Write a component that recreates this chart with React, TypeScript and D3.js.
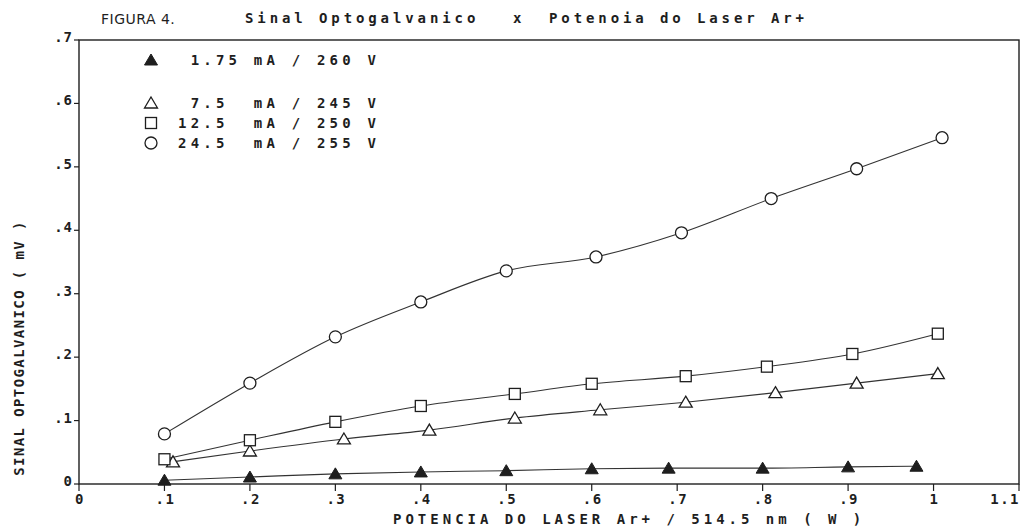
import React from "react";
import * as d3 from "d3";

const W = 1029;
const H = 529;

const xTicks = [0, 0.1, 0.2, 0.3, 0.4, 0.5, 0.6, 0.7, 0.8, 0.9, 1, 1.1];
const xTickLabels = ["0", ".1", ".2", ".3", ".4", ".5", ".6", ".7", ".8", ".9", "1", "1.1"];
const yTicks = [0, 0.1, 0.2, 0.3, 0.4, 0.5, 0.6, 0.7];
const yTickLabels = ["0", ".1", ".2", ".3", ".4", ".5", ".6", ".7"];

// 1.75 mA / 260 V (filled triangles)
const s1x = [0.1, 0.2, 0.3, 0.4, 0.5, 0.6, 0.69, 0.8, 0.9, 0.98];
const s1y = [0.006, 0.011, 0.016, 0.019, 0.021, 0.024, 0.025, 0.025, 0.027, 0.028];
// 7.5 mA / 245 V (open triangles)
const s2x = [0.11, 0.2, 0.31, 0.41, 0.51, 0.61, 0.71, 0.815, 0.91, 1.005];
const s2y = [0.035, 0.052, 0.071, 0.085, 0.104, 0.117, 0.129, 0.144, 0.159, 0.174];
// 12.5 mA / 250 V (open squares)
const s3x = [0.1, 0.2, 0.3, 0.4, 0.51, 0.6, 0.71, 0.805, 0.905, 1.005];
const s3y = [0.039, 0.069, 0.098, 0.123, 0.142, 0.158, 0.17, 0.185, 0.205, 0.237];
// 24.5 mA / 255 V (open circles)
const s4x = [0.1, 0.2, 0.3, 0.4, 0.5, 0.605, 0.705, 0.81, 0.91, 1.01];
const s4y = [0.079, 0.159, 0.232, 0.287, 0.336, 0.358, 0.396, 0.45, 0.497, 0.546];

const legendLabels = [" 1.75 mA / 260 V", " 7.5  mA / 245 V", "12.5  mA / 250 V", "24.5  mA / 255 V"];
const seriesMarkers = ["filledTri", "tri", "square", "circle"];

const titleParts = ["Sinal Optogalvanico", "x", "Potenoia do Laser Ar+"];
const figLabel = "FIGURA 4.";
const xLabel = "POTENCIA DO LASER Ar+ / 514.5 nm ( W )";
const yLabel = "SINAL OPTOGALVANICO ( mV )";

const INK = "#1e1e1e";
const MONO = "'DejaVu Sans Mono', 'Liberation Mono', monospace";

function Marker({ kind, x, y }: { kind: string; x: number; y: number }) {
  const sw = 1.3;
  if (kind === "filledTri" || kind === "tri") {
    const p = d3.path();
    p.moveTo(x, y - 6);
    p.lineTo(x + 6.5, y + 5);
    p.lineTo(x - 6.5, y + 5);
    p.closePath();
    return kind === "filledTri" ? (
      <path d={p.toString()} fill={INK} stroke={INK} strokeWidth={1} />
    ) : (
      <path d={p.toString()} fill="white" stroke={INK} strokeWidth={sw} />
    );
  }
  if (kind === "square") {
    return <rect x={x - 5.5} y={y - 5.5} width={11} height={11} fill="white" stroke={INK} strokeWidth={sw} />;
  }
  return <circle cx={x} cy={y} r={6} fill="white" stroke={INK} strokeWidth={sw} />;
}

export default function App() {
  const x = d3.scaleLinear().domain([0, 1.1]).range([79, 1019]);
  const y = d3.scaleLinear().domain([0, 0.7]).range([484, 40]);

  const series = [
    { xs: s1x, ys: s1y, kind: seriesMarkers[0] },
    { xs: s2x, ys: s2y, kind: seriesMarkers[1] },
    { xs: s3x, ys: s3y, kind: seriesMarkers[2] },
    { xs: s4x, ys: s4y, kind: seriesMarkers[3] },
  ];

  const line = d3
    .line<[number, number]>()
    .x((d) => x(d[0]))
    .y((d) => y(d[1]))
    .curve(d3.curveMonotoneX);

  const legendY = [60, 103, 123, 143];
  const textStyle: React.CSSProperties = {
    fontFamily: MONO,
    fontWeight: "bold",
    fontSize: 14,
    whiteSpace: "pre",
  };

  return (
    <svg
      width={W}
      height={H}
      viewBox={`0 0 ${W} ${H}`}
      style={{ position: "absolute", left: 0, top: 0, background: "white" }}
    >
      <rect x={0} y={0} width={W} height={H} fill="white" />
      {/* title */}
      <text x={101} y={24} fontFamily="'DejaVu Sans', sans-serif" fontSize={14} fill={INK} style={{ letterSpacing: "0.5px" }}>
        {figLabel}
      </text>
      <text x={245} y={23} fill={INK} style={{ ...textStyle, letterSpacing: "3.9px" }}>
        {titleParts[0]}
      </text>
      <text x={513} y={23} fill={INK} style={{ ...textStyle, letterSpacing: "3.9px" }}>
        {titleParts[1]}
      </text>
      <text x={549} y={23} fill={INK} style={{ ...textStyle, letterSpacing: "3.9px" }}>
        {titleParts[2]}
      </text>

      {/* frame */}
      <rect
        x={x(0)}
        y={y(0.7)}
        width={x(1.1) - x(0)}
        height={y(0) - y(0.7)}
        fill="none"
        stroke={INK}
        strokeWidth={1.4}
      />

      {/* y ticks */}
      {yTicks.map((t, i) => (
        <g key={"yt" + i}>
          <line x1={x(0) - 5} x2={x(0)} y1={y(t)} y2={y(t)} stroke={INK} strokeWidth={1.2} />
          <text x={73} y={y(t) + 2} textAnchor="end" fill={INK} style={{ ...textStyle, letterSpacing: "1px" }}>
            {yTickLabels[i]}
          </text>
        </g>
      ))}

      {/* x ticks */}
      {xTicks.map((t, i) => (
        <g key={"xt" + i}>
          <line x1={x(t)} x2={x(t)} y1={y(0)} y2={y(0) + 7} stroke={INK} strokeWidth={1.2} />
          <text
            x={x(t) + 1}
            y={y(0) + 20}
            textAnchor={i === xTicks.length - 1 ? "end" : "middle"}
            fill={INK}
            style={{ ...textStyle, letterSpacing: "1.5px" }}
          >
            {xTickLabels[i]}
          </text>
        </g>
      ))}

      {/* axis labels */}
      <text x={393} y={524} fill={INK} style={{ ...textStyle, letterSpacing: "4px" }}>
        {xLabel}
      </text>
      <text
        transform={`translate(24, 348) rotate(-90)`}
        textAnchor="middle"
        fill={INK}
        style={{ ...textStyle, letterSpacing: "1.4px" }}
      >
        {yLabel}
      </text>

      {/* lines */}
      {series.map((s, i) => (
        <path
          key={"l" + i}
          d={line(s.xs.map((v, j) => [v, s.ys[j]] as [number, number])) || ""}
          fill="none"
          stroke="#333"
          strokeWidth={1.1}
        />
      ))}
      {/* markers */}
      {series.map((s, i) => (
        <g key={"m" + i}>
          {s.xs.map((v, j) => (
            <Marker key={j} kind={s.kind} x={x(v)} y={y(s.ys[j])} />
          ))}
        </g>
      ))}

      {/* legend */}
      {legendLabels.map((lab, i) => (
        <g key={"lg" + i}>
          <Marker kind={seriesMarkers[i]} x={151} y={legendY[i]} />
          <text x={178} y={legendY[i] + 5} fill={INK} style={{ ...textStyle, letterSpacing: "4.2px" }}>
            {lab}
          </text>
        </g>
      ))}
    </svg>
  );
}
